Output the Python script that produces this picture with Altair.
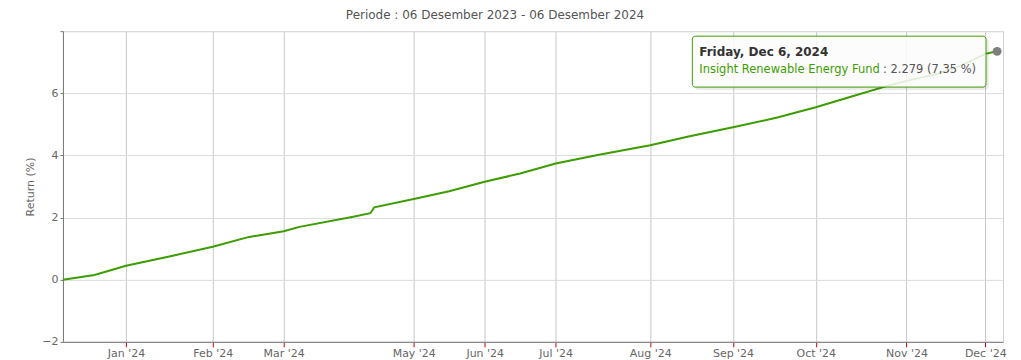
import altair as alt
import pandas as pd

# Trading-day index (0 = 06 Dec 2023) and cumulative return (%)
day_index = [0, 8, 16, 27, 38, 47, 56, 60, 73, 78, 79, 89, 98, 107, 116, 125,
             136, 149, 159, 170, 181, 191, 202, 209, 214, 222, 228, 234, 237]
return_pct = [0.00, 0.15, 0.45, 0.75, 1.06, 1.37, 1.56, 1.70, 2.01, 2.14, 2.33, 2.60,
              2.85, 3.15, 3.42, 3.74, 4.02, 4.33, 4.62, 4.91, 5.21, 5.55, 5.97, 6.23,
              6.40, 6.63, 6.90, 7.27, 7.35]

month_labels = ["Jan '24", "Feb '24", "Mar '24", "May '24", "Jun '24", "Jul '24",
                "Aug '24", "Sep '24", "Oct '24", "Nov '24", "Dec '24"]
month_index = [16, 38, 56, 89, 107, 125, 149, 170, 191, 214, 234]

y_ticks = [-2, 0, 2, 4, 6, 8]

title_text = "Periode : 06 Desember 2023 - 06 Desember 2024"
fund_name = "Insight Renewable Energy Fund"
tooltip_date = "Friday, Dec 6, 2024"
tooltip_value = ": 2.279 (7,35 %)"

FONT = "DejaVu Sans"
GREEN = "#3c9c00"

df = pd.DataFrame({"day": day_index, "ret": return_pct})
last = df.tail(1)

label_map = "{" + ",".join(f"'{i}': \"{l}\"" for i, l in zip(month_index, month_labels)) + "}"

x_scale = alt.Scale(domain=[0, 238.5], nice=False, zero=False)
y_scale = alt.Scale(domain=[-2, 8], nice=False)

x_enc = alt.X("day:Q", scale=x_scale, axis=alt.Axis(
    values=month_index, labelExpr=f"{label_map}[datum.value + '']",
    title=None, grid=True, gridColor="#c8c8c8", tickColor="#cc0000", tickSize=5,
    domainColor="#777777", labelColor="#666666", labelFont=FONT, labelFontSize=11,
    labelPadding=1, labelFlush=False, labelOverlap=False))
y_enc = alt.Y("ret:Q", scale=y_scale, axis=alt.Axis(
    values=y_ticks, labelExpr="datum.value == 8 ? '' : datum.label",
    title="Return (%)", titleFont=FONT, titleFontSize=11, titleFontWeight="normal",
    titleColor="#666666", titlePadding=6, grid=True, gridColor="#dcdcdc",
    tickColor="#777777", tickSize=3, domainColor="#777777", labelColor="#666666",
    labelFont=FONT, labelFontSize=11, labelPadding=2))

line = alt.Chart(df).mark_line(color=GREEN, strokeWidth=2, interpolate="linear").encode(
    x=x_enc, y=y_enc)

point = alt.Chart(last).mark_circle(color="#7f7f7f", opacity=1, size=80).encode(
    x=alt.X("day:Q", scale=x_scale), y=alt.Y("ret:Q", scale=y_scale))

# tooltip box (annotation)
shadow = alt.Chart(last).mark_rect(fill="#000000", opacity=0.08, cornerRadius=4).encode(
    x=alt.value(632), x2=alt.value(927), y=alt.value(7), y2=alt.value(59))
box = alt.Chart(last).mark_rect(fill="#ffffff", fillOpacity=0.85, stroke=GREEN,
                                 strokeWidth=1, cornerRadius=3).encode(
    x=alt.value(630), x2=alt.value(924), y=alt.value(5), y2=alt.value(56))
t1 = alt.Chart(last).mark_text(align="left", baseline="middle", font=FONT, fontSize=12,
                                fontWeight="bold", color="#333333").encode(
    x=alt.value(637), y=alt.value(21), text=alt.value(tooltip_date))
t2 = alt.Chart(last).mark_text(align="left", baseline="middle", font=FONT, fontSize=11.5,
                                color=GREEN).encode(
    x=alt.value(637), y=alt.value(39), text=alt.value(fund_name))
t3 = alt.Chart(last).mark_text(align="right", baseline="middle", font=FONT, fontSize=11.5,
                                color="#555555").encode(
    x=alt.value(914), y=alt.value(39), text=alt.value(tooltip_value))

chart = alt.layer(line, point, shadow, box, t1, t2, t3).properties(
    width=941, height=311,
    title=alt.TitleParams(title_text, anchor="middle", font=FONT, fontSize=12,
                          fontWeight="normal", color="#555555", offset=9, dx=-38),
    autosize=alt.AutoSizeParams(type="none"),
    padding={"left": 55, "top": 23, "right": 10, "bottom": 20},
).configure_view(stroke="#d0d0d0", strokeWidth=1)

chart.save("out.html", embed_options={"renderer": "svg", "actions": False})
